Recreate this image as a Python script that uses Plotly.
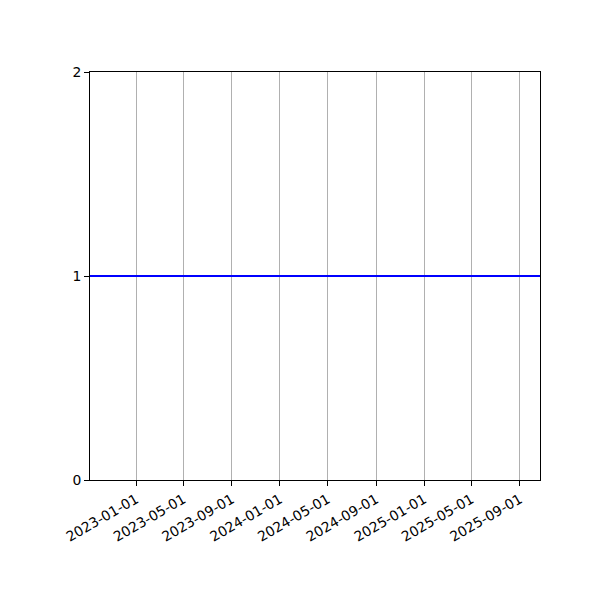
import plotly.graph_objects as go

# Data
line_dates = ["2022-09-06", "2025-10-22"]
line_values = [1, 1]
x_tick_labels = ["2023-01-01", "2023-05-01", "2023-09-01", "2024-01-01", "2024-05-01",
                 "2024-09-01", "2025-01-01", "2025-05-01", "2025-09-01"]
y_tick_values = [0, 1, 2]

fig = go.Figure()
fig.add_trace(go.Scatter(x=line_dates, y=line_values, mode="lines",
                         line=dict(color="#0000ff", width=2), showlegend=False,
                         hoverinfo="skip"))

font = dict(family="DejaVu Sans", size=13.9, color="black")
fig.update_layout(
    width=600, height=600,
    margin=dict(l=82, r=68, t=64, b=128, autoexpand=False),
    paper_bgcolor="white", plot_bgcolor="white",
    font=font,
    showlegend=False,
)
fig.update_xaxes(
    type="date", automargin=False,
    range=[line_dates[0], line_dates[-1]],
    tickvals=x_tick_labels, ticktext=x_tick_labels, tickangle=-30,
    showgrid=True, gridcolor="#b0b0b0", gridwidth=1,
    showline=True, linecolor="black", linewidth=1, mirror=True,
    ticks="outside", ticklen=5, tickcolor="black", tickwidth=1,
    zeroline=False, tickfont=font,
)
fig.update_yaxes(
    automargin=False,
    range=[0, 2], tickvals=y_tick_values, ticktext=[str(v) for v in y_tick_values],
    showgrid=False,
    showline=True, linecolor="black", linewidth=1, mirror=True,
    ticks="outside", ticklen=5, tickcolor="black", tickwidth=1,
    zeroline=False, tickfont=font,
)
fig.write_html("out.html")
